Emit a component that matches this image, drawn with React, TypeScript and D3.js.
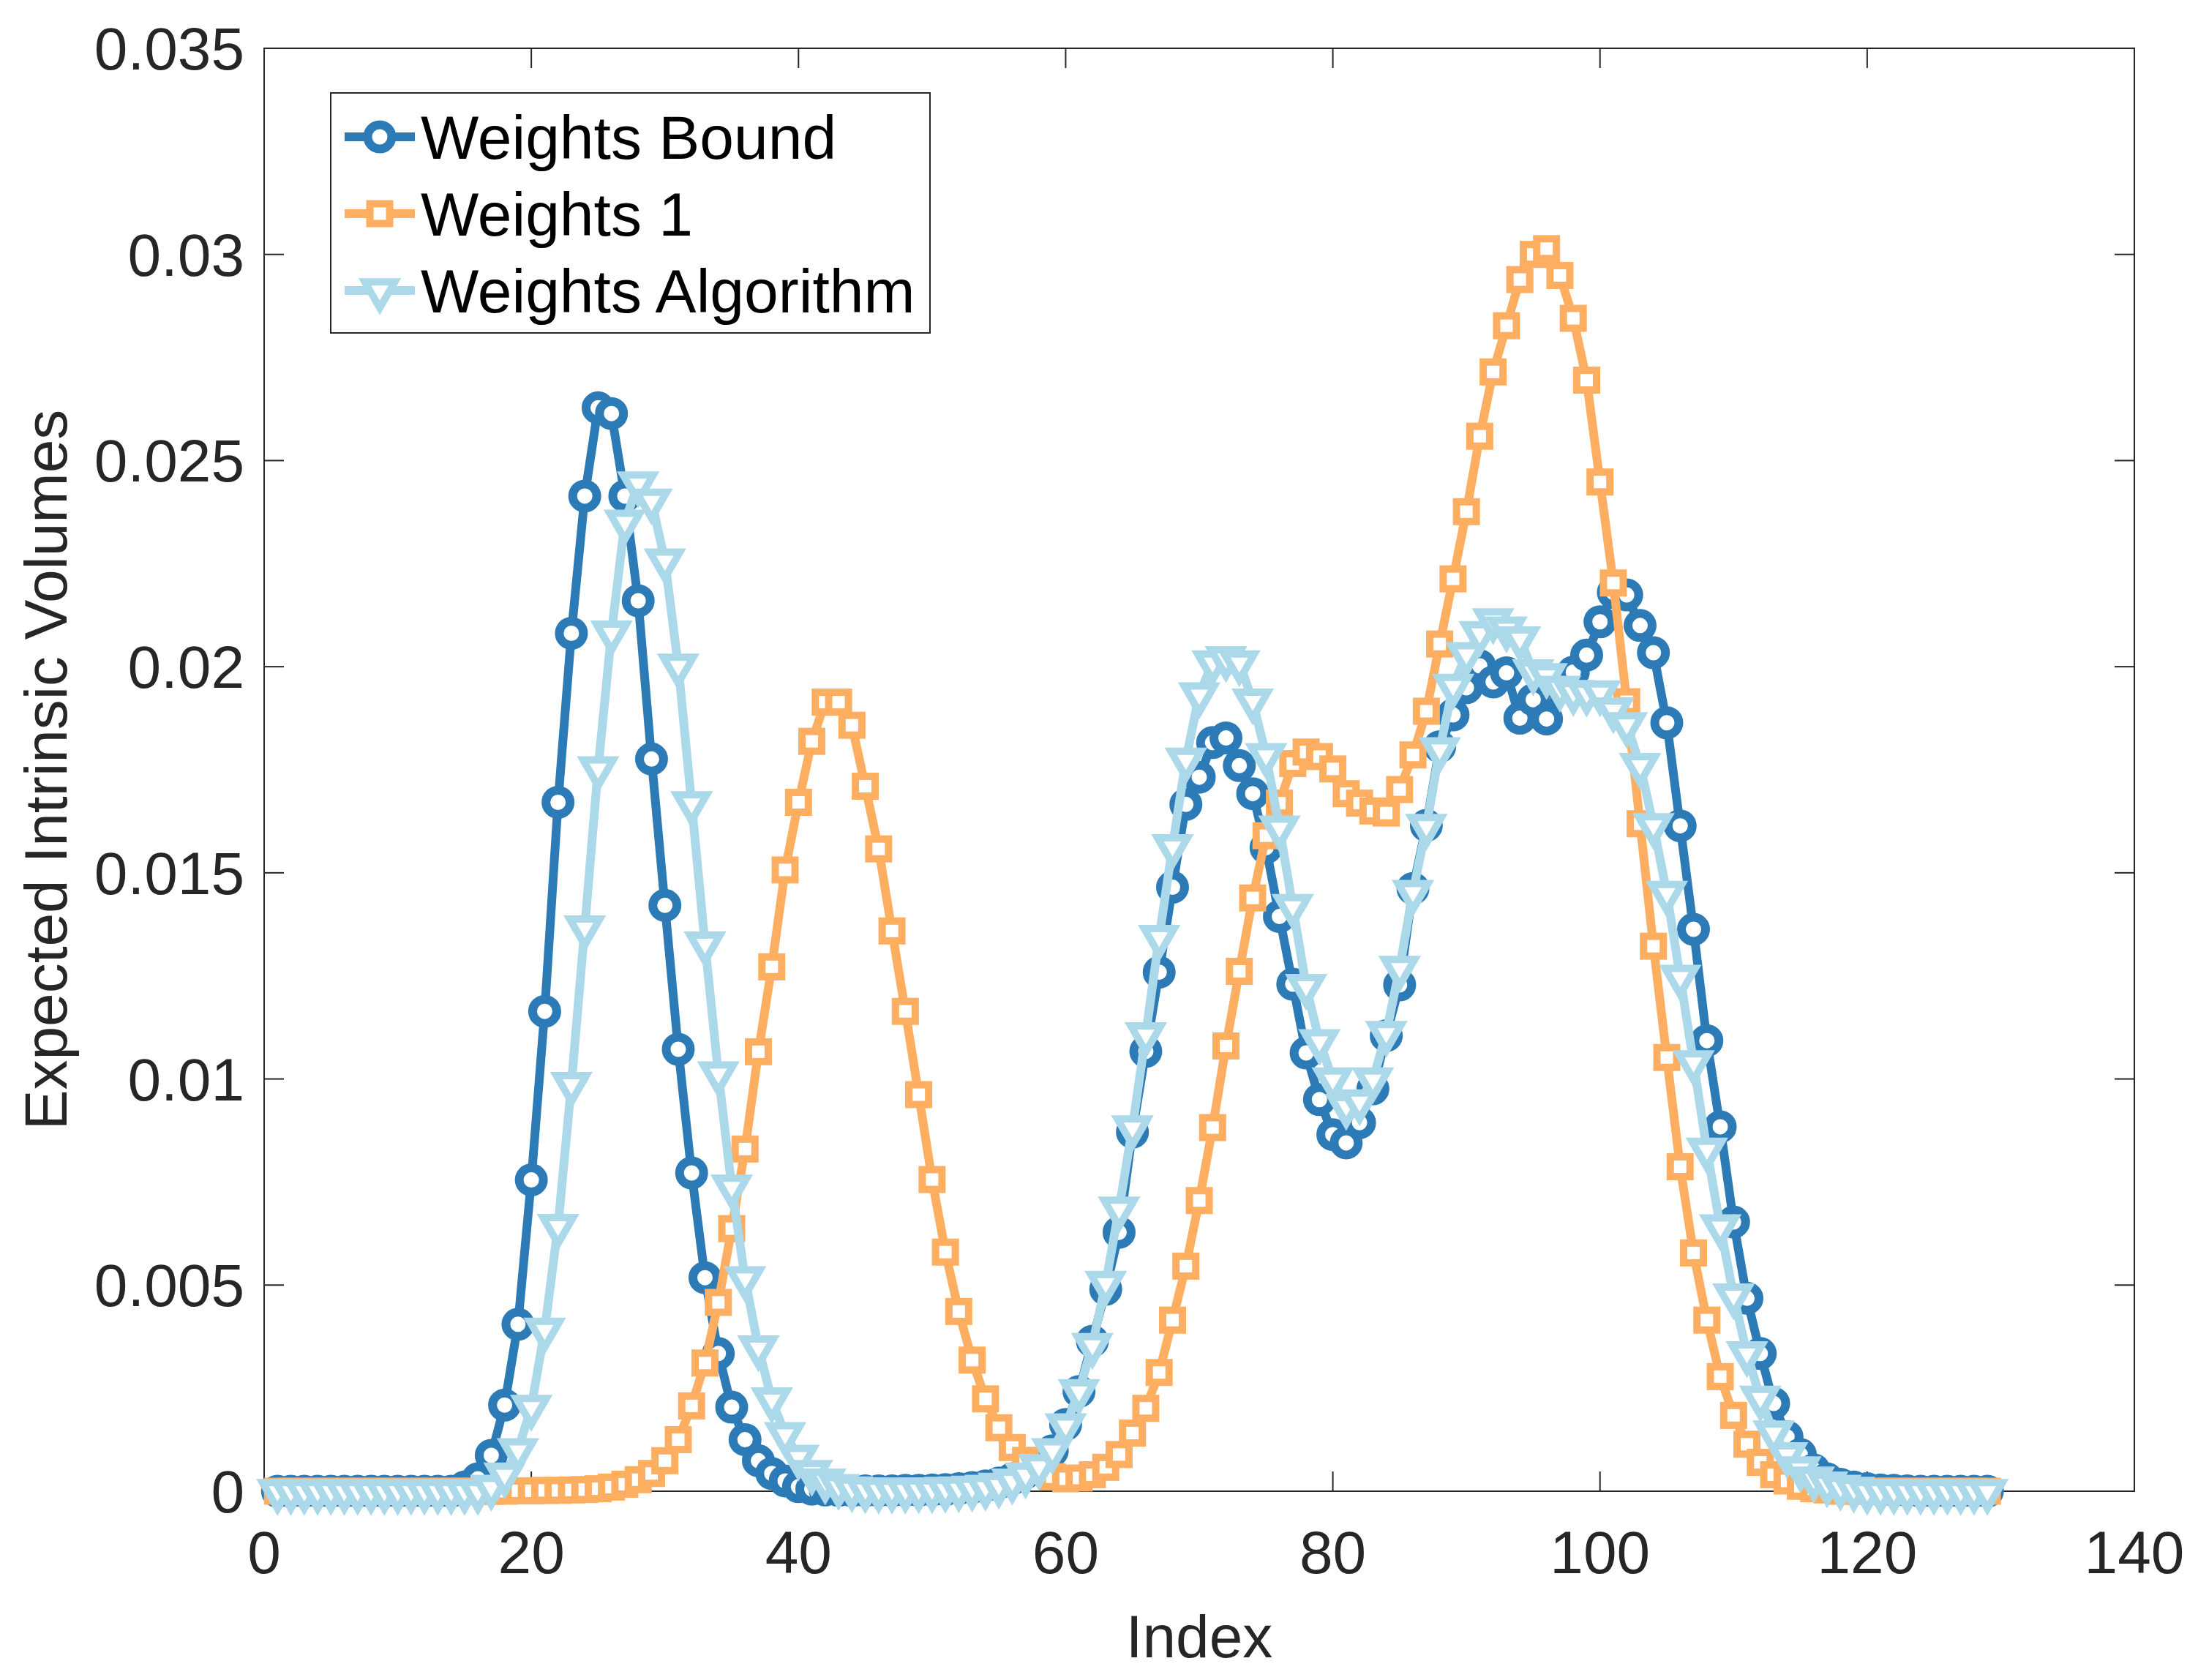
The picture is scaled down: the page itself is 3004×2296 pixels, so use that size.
import React from "react";
import * as d3 from "d3";

const W = 3004;
const H = 2296;

const xTicks = [0, 20, 40, 60, 80, 100, 120, 140];
const yTicks = [0, 0.005, 0.01, 0.015, 0.02, 0.025, 0.03, 0.035];
const yTickLabels = ["0", "0.005", "0.01", "0.015", "0.02", "0.025", "0.03", "0.035"];

const seriesNames = ["Weights Bound", "Weights 1", "Weights Algorithm"];
const seriesColors = ["#2C7BB6", "#FDAE61", "#ABD9E9"];

// index 1..129
const weightsBound = [
  0, 0, 0, 0, 0, 0, 0, 0, 0, 0, 0, 0, 0, 0,
  0.0001, 0.0003, 0.00087, 0.00209, 0.00405, 0.00755, 0.01164, 0.01671, 0.02081, 0.02414,
  0.02628, 0.02614, 0.02414, 0.0216, 0.01776, 0.01421, 0.01072, 0.00772, 0.00518, 0.00334,
  0.00204, 0.00125, 0.00074, 0.00043, 0.00025, 0.00011, 0.00005, 0.00003, 0.00002, 0.00001,
  0.00001, 0.00001, 0.00001, 0.00002, 0.00002, 0.00003, 0.00004, 0.00006, 0.00009, 0.00013,
  0.0002, 0.0003, 0.00045, 0.00065, 0.00098, 0.00162, 0.00242, 0.00364, 0.0049, 0.00628,
  0.00871, 0.01067, 0.01259, 0.01465, 0.01666, 0.01732, 0.01816, 0.01827, 0.0176, 0.01692,
  0.01561, 0.01394, 0.0123, 0.01063, 0.0095, 0.00865, 0.00845, 0.00894, 0.00976, 0.01105,
  0.01228, 0.01462, 0.01615, 0.01806, 0.01883, 0.01949, 0.02002, 0.01963, 0.01985, 0.01875,
  0.0192, 0.01873, 0.01956, 0.01987, 0.02028, 0.02109, 0.0218, 0.02174, 0.021, 0.02034,
  0.01864, 0.01614, 0.01363, 0.01093, 0.00884, 0.00653, 0.00468, 0.00334, 0.00213, 0.00132,
  0.00089, 0.00052, 0.0003, 0.00017, 0.0001, 0.00006, 0.00003, 0.00002, 0.00001,
  0, 0, 0, 0, 0, 0,
];

const weightsOne = [
  0, 0, 0, 0, 0, 0, 0, 0, 0, 0, 0, 0, 0, 0, 0, 0, 0, 0,
  0.00001, 0.00001, 0.00002, 0.00002, 0.00003, 0.00004, 0.00006, 0.0001, 0.00017, 0.00028,
  0.00043, 0.00074, 0.00125, 0.00207, 0.00311, 0.00458, 0.00637, 0.0083, 0.01066, 0.01272,
  0.01507, 0.01671, 0.01819, 0.01914, 0.01914, 0.01858, 0.0171, 0.01558, 0.01359, 0.01164,
  0.00962, 0.00756, 0.0058, 0.00436, 0.00318, 0.00224, 0.00154, 0.00106, 0.00075, 0.0005,
  0.00035, 0.0003, 0.00032, 0.0004, 0.00058, 0.00089, 0.00141, 0.00201, 0.00288, 0.00415,
  0.00546, 0.00705, 0.00882, 0.0108, 0.01261, 0.01439, 0.0159, 0.01669, 0.01765, 0.01793,
  0.01782, 0.01752, 0.01692, 0.01669, 0.0165, 0.01645, 0.01702, 0.01786, 0.01892, 0.02055,
  0.02213, 0.02376, 0.02559, 0.02715, 0.02827, 0.02939, 0.03, 0.03014, 0.02949, 0.02845,
  0.02695, 0.02448, 0.02203, 0.01915, 0.01619, 0.01322, 0.01052, 0.00787, 0.00578, 0.00415,
  0.00278, 0.00184, 0.00114, 0.0007, 0.0004, 0.00025, 0.00012, 0.00006, 0.00003,
  0, 0, 0, 0, 0, 0, 0, 0, 0, 0, 0, 0,
];

const weightsAlgorithm = [
  0, 0, 0, 0, 0, 0, 0, 0, 0, 0, 0, 0, 0, 0, 0, 0,
  0.0001, 0.0004, 0.00099, 0.00204, 0.00391, 0.00643, 0.00987, 0.01367, 0.01753, 0.02082,
  0.02351, 0.02444, 0.02402, 0.02257, 0.02002, 0.01668, 0.01328, 0.01013, 0.00738, 0.00516,
  0.00348, 0.00222, 0.00138, 0.00083, 0.00046, 0.00025, 0.00012, 0.00006, 0.00004, 0.00003,
  0.00003, 0.00003, 0.00004, 0.00004, 0.00005, 0.00006, 0.00008, 0.0001, 0.00015, 0.00025,
  0.0004, 0.0006, 0.00099, 0.00159, 0.00242, 0.00354, 0.00505, 0.00685, 0.00882, 0.01108,
  0.01344, 0.01564, 0.01774, 0.01932, 0.0201, 0.0202, 0.0201, 0.01917, 0.01785, 0.01609,
  0.01419, 0.01225, 0.01091, 0.00998, 0.00934, 0.00945, 0.00998, 0.01111, 0.01269, 0.01453,
  0.01613, 0.01799, 0.01953, 0.0203, 0.02081, 0.02112, 0.02092, 0.02068, 0.01988, 0.01979,
  0.01948, 0.01938, 0.01936, 0.01937, 0.01896, 0.0186, 0.01761, 0.01615, 0.01451, 0.01247,
  0.0104, 0.00828, 0.00642, 0.00474, 0.00334, 0.00226, 0.00142, 0.00089, 0.00055, 0.0003,
  0.00018, 0.0001, 0.00005,
  0, 0, 0, 0, 0, 0, 0, 0, 0, 0,
];

const seriesValues = [weightsBound, weightsOne, weightsAlgorithm];
const markerKinds = ["circle", "square", "triangle"];

const FONT = "'Liberation Sans', Arial, Helvetica, sans-serif";
const AX = "#262626";

const M = { left: 361, right: 2917, top: 66, bottom: 2038 };

function Marker({ kind, x, y, color }: { kind: string; x: number; y: number; color: string }) {
  if (kind === "circle") {
    return <circle cx={x} cy={y} r={16.5} fill="#fff" stroke={color} strokeWidth={12} />;
  }
  if (kind === "square") {
    const s = 27;
    return (
      <rect x={x - s / 2} y={y - s / 2} width={s} height={s} fill="#fff" stroke={color}
        strokeWidth={10} strokeLinejoin="miter" />
    );
  }
  const w = 41;
  const h = w * Math.sqrt(3) / 2;
  const d = `M${x - w / 2},${y - h / 3}L${x + w / 2},${y - h / 3}L${x},${y + (2 * h) / 3}Z`;
  return <path d={d} fill="#fff" stroke={color} strokeWidth={10} strokeLinejoin="miter" />;
}

export default function App() {
  const x = d3.scaleLinear().domain([0, 140]).range([M.left, M.right]);
  const y = d3.scaleLinear().domain([0, 0.035]).range([M.bottom, M.top]);
  const line = d3
    .line<number>()
    .x((_, i) => x(i + 1))
    .y((v) => y(v));

  const tickLen = 27;
  const legend = { x: 452, y: 127, w: 819, h: 328, rows: [187, 292, 397] };

  return (
    <svg width={W} height={H} viewBox={`0 0 ${W} ${H}`}
      style={{ position: "absolute", left: 0, top: 0, background: "#fff" }}>
      <rect x={0} y={0} width={W} height={H} fill="#fff" />
      {/* axes box */}
      <rect x={M.left} y={M.top} width={M.right - M.left} height={M.bottom - M.top}
        fill="none" stroke={AX} strokeWidth={2} />
      {/* x ticks */}
      {xTicks.map((t) => (
        <g key={"xt" + t}>
          <line x1={x(t)} x2={x(t)} y1={M.bottom} y2={M.bottom - tickLen} stroke={AX} strokeWidth={2} />
          <line x1={x(t)} x2={x(t)} y1={M.top} y2={M.top + tickLen} stroke={AX} strokeWidth={2} />
          <text x={x(t)} y={2150} textAnchor="middle" fontFamily={FONT} fontSize={82} fill={AX}>
            {t}
          </text>
        </g>
      ))}
      {/* y ticks */}
      {yTicks.map((t, i) => (
        <g key={"yt" + t}>
          <line x1={M.left} x2={M.left + tickLen} y1={y(t)} y2={y(t)} stroke={AX} strokeWidth={2} />
          <line x1={M.right} x2={M.right - tickLen} y1={y(t)} y2={y(t)} stroke={AX} strokeWidth={2} />
          <text x={334} y={y(t) + 29} textAnchor="end" fontFamily={FONT} fontSize={82} fill={AX}>
            {yTickLabels[i]}
          </text>
        </g>
      ))}
      {/* axis labels */}
      <text x={(M.left + M.right) / 2} y={2265} textAnchor="middle" fontFamily={FONT} fontSize={82} fill={AX}>
        Index
      </text>
      <text transform={`translate(91,${(M.top + M.bottom) / 2}) rotate(-90)`} textAnchor="middle"
        fontFamily={FONT} fontSize={82} fill={AX}>
        Expected Intrinsic Volumes
      </text>

      {/* series */}
      {seriesValues.map((vals, si) => (
        <g key={"s" + si}>
          <path d={line(vals) || ""} fill="none" stroke={seriesColors[si]} strokeWidth={12}
            strokeLinejoin="round" strokeLinecap="butt" />
          {vals.map((v, i) => (
            <Marker key={i} kind={markerKinds[si]} x={x(i + 1)} y={y(v)} color={seriesColors[si]} />
          ))}
        </g>
      ))}

      {/* legend */}
      <rect x={legend.x} y={legend.y} width={legend.w} height={legend.h} fill="#fff" stroke={AX} strokeWidth={2} />
      {seriesNames.map((name, si) => {
        const ry = legend.rows[si];
        return (
          <g key={"lg" + si}>
            <line x1={471} x2={567} y1={ry} y2={ry} stroke={seriesColors[si]} strokeWidth={12} />
            <Marker kind={markerKinds[si]} x={519} y={ry} color={seriesColors[si]} />
            <text x={575} y={ry + 30} fontFamily={FONT} fontSize={84} fill="#000">
              {name}
            </text>
          </g>
        );
      })}
    </svg>
  );
}
